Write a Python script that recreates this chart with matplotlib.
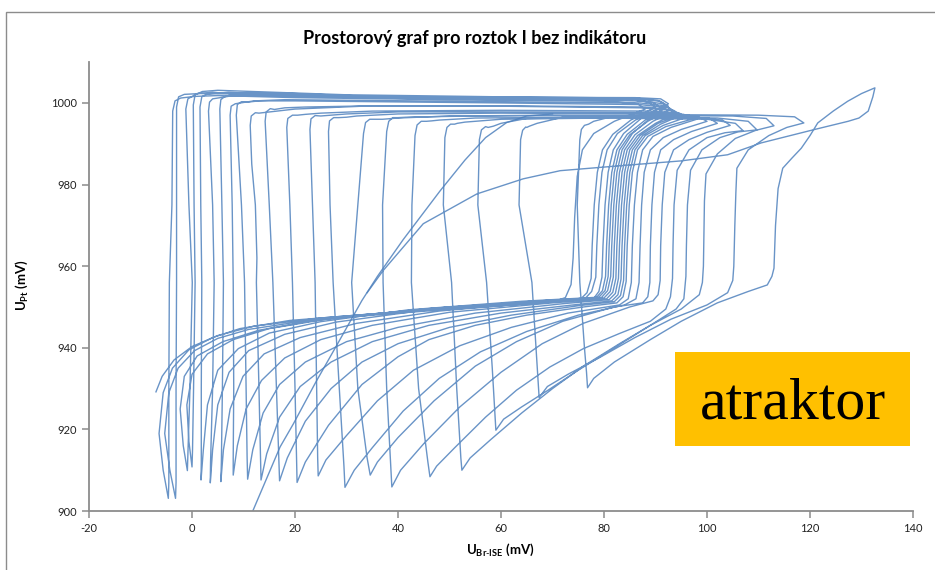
import numpy as np
import matplotlib.pyplot as plt
from matplotlib.patches import Rectangle

# axis ticks
x_ticks = [-20, 0, 20, 40, 60, 80, 100, 120, 140]
y_ticks = [900, 920, 940, 960, 980, 1000]

# trajectory (U_Br-ISE [mV], U_Pt [mV])
# one list per oscillation: fall on the left, arc at the bottom, rise on the right, back along the top
loops = [
    [(-7.0, 929.2), (-5.8, 933), (-3.5, 937), (0, 940.3), (5, 943), (12, 945.3), (25, 947.3), (45, 949.3),
     (62, 950.5), (70, 951.2), (72.5, 952.3), (73.6, 955.5), (74, 962), (74.3, 972), (74.8, 982), (75.8, 988.5),
     (78, 992.5), (82, 995.5), (88, 998.5), (86.5, 999.8), (80, 1000.5), (50, 1000.8), (20, 1001.3), (5, 1001.8),
     (0.5, 1001.6)],
    [(-2.2, 1001.2), (-3.3, 1000.5), (-3.75, 998), (-3.9, 975), (-4.4, 956), (-4.5, 930), (-4.5, 907), (-4.6, 903.1),
     (-5.6, 910), (-6.4, 919), (-5.6, 929), (-3.8, 935), (-0.6, 939.5), (4, 942.5), (9.3, 944.7), (19, 946.7),
     (35, 948.3), (55, 950), (70, 951.3), (75.5, 952), (76.7, 953.5), (77.5, 957), (77.7, 965), (78.1, 975),
     (78.7, 983), (79.7, 988.5), (81.7, 992.3), (85.2, 995.8), (90, 999), (88.5, 1000.3), (84, 1001), (60, 1001.2),
     (30, 1001.6), (8, 1002.2), (1.5, 1002.3)],
    [(-1.5, 1002.1), (-2.6, 1001.5), (-3.0, 999), (-3.0, 975), (-3.0, 956), (-3.1, 930), (-3.1, 907), (-3.2, 903.1),
     (-4.3, 910), (-5.3, 919), (-4.5, 929), (-2.7, 935), (0.5, 939.3), (5, 942.3), (11, 944.5), (22, 946.6),
     (40, 948.5), (60, 950.3), (72, 951.5), (76.5, 952.3), (77.6, 953.8), (78.4, 957.3), (78.6, 965), (79, 975),
     (79.6, 983), (80.6, 988.5), (82.6, 992.5), (86.1, 995.8), (91, 998.8), (89.5, 1000.1), (85, 1000.8),
     (60, 1001), (30, 1001.4), (12, 1002), (4, 1002.6), (1, 1002.3)],
    [(0.3, 1001.8), (-0.8, 1001), (-1.2, 998.5), (-0.6, 975), (0.05, 956), (-0.4, 930), (-0.8, 914), (-0.9, 909.9),
     (-1.7, 916), (-2.3, 925), (-1.5, 933), (1, 938), (6, 941.5), (13, 944.3), (26, 947.2), (46, 949.6),
     (66, 951.3), (78, 952.1), (79, 953.8), (79.6, 957.3), (79.8, 965), (80.2, 975), (80.8, 983), (81.8, 988.5),
     (83.8, 992.5), (87.3, 996.3), (92, 999.5), (90.5, 1000.6), (86, 1001.2), (60, 1001.5), (30, 1002),
     (12, 1002.8), (5, 1003.1), (2, 1002.8)],
    [(1.5, 1002.5), (0.6, 1002), (0.25, 999.5), (0.4, 975), (0.6, 956), (0.3, 930), (0.1, 915), (0.0, 910.8),
     (-0.6, 917), (-1, 926), (0, 933.5), (3, 938.5), (8, 942), (15, 944.7), (28, 947.4), (48, 949.8),
     (68, 951.5), (78.5, 952.3), (79.7, 954), (80.3, 957.5), (80.5, 965), (80.9, 975), (81.5, 983), (82.5, 988.5),
     (84.5, 992.3), (88, 995.8), (92.5, 999.2), (91, 1000.4), (86, 1001), (60, 1001.2), (35, 1001.5),
     (15, 1002.2), (7, 1002.6), (4, 1002.3)],
    [(2.8, 1002.1), (1.9, 1001.5), (1.55, 999), (1.7, 975), (1.9, 956), (1.8, 930), (1.8, 912), (1.75, 907.6),
     (2.2, 915), (3.0, 926), (5, 934.5), (9, 939.8), (15, 943.6), (25, 946.4), (42, 949.3), (64, 951.4),
     (79, 952.4), (80.2, 954), (80.8, 957.5), (81, 965), (81.4, 975), (82, 983), (83, 988.5), (85, 992.2),
     (88.5, 995.5), (93, 998.5), (91.5, 999.8), (87, 1000.5), (60, 1000.8), (35, 1001.2), (15, 1001.8),
     (8, 1001.8), (5, 1001.2)],
    [(4.0, 1001), (3.4, 1000.2), (3.2, 998), (4.0, 975), (4.3, 956), (4.0, 930), (3.6, 912), (3.55, 906.9),
     (4.0, 915), (5.0, 926), (7.2, 934), (11, 939.3), (18, 943.3), (28, 946.3), (45, 949.2), (66, 951.4),
     (79.5, 952.3), (80.7, 954), (81.3, 957.5), (81.5, 965), (81.9, 975), (82.5, 983), (83.5, 988.5),
     (85.5, 992.5), (89, 996.3), (92.5, 999.8), (91, 1001), (86, 1001.3), (60, 1001.4), (35, 1001.6),
     (20, 1002.3), (10, 1002.5), (7.5, 1002)],
    [(6.3, 1001.5), (5.6, 1000.8), (5.4, 998.5), (5.8, 975), (6.1, 956), (5.9, 930), (5.7, 912), (5.6, 907.2),
     (6.1, 915), (7.4, 925), (9.9, 933), (14, 938.5), (21, 942.5), (32, 946), (48, 949), (68, 951.2),
     (80, 952.2), (81.2, 953.8), (81.8, 957.3), (82, 965), (82.4, 975), (83, 983), (84, 988.5), (86, 992.2),
     (89.5, 995.5), (93.5, 998), (92, 999.3), (87, 1000), (60, 1000.3), (35, 1000.6), (18, 1000.8),
     (12, 1000.5), (9.5, 1000)],
    [(8.4, 999.8), (7.6, 999.2), (7.4, 997), (7.8, 975), (8.0, 956), (8.1, 930), (8.0, 913), (8.0, 908.8),
     (8.8, 916), (10.5, 925), (13.5, 932), (18, 937.5), (25, 942), (35, 945.5), (50, 948.7), (70, 951),
     (80.5, 952), (81.7, 953.6), (82.3, 957), (82.5, 965), (82.9, 975), (83.5, 983), (84.5, 988.5), (86.5, 992),
     (90, 995), (94, 997.5), (92.5, 998.8), (87, 999.6), (60, 1000), (35, 1000.3), (20, 1000.5),
     (13, 1000.5), (10.8, 1000.2)],
    [(9.6, 1000.3), (8.8, 999.6), (8.6, 997), (9.6, 975), (10.2, 956), (10.5, 930), (10.7, 913), (10.8, 907.8),
     (11.8, 915), (13.8, 924), (17, 931), (22, 936.5), (30, 941.5), (40, 945), (55, 948.5), (72, 950.8),
     (81, 951.8), (82.2, 953.3), (82.8, 957), (83, 965), (83.4, 975), (84, 983), (85, 988.5), (87, 992),
     (90.5, 995), (94.5, 997), (93, 998.2), (87, 998.8), (60, 999.2), (35, 999.3), (20, 998.5),
     (15, 997.8), (13, 997.5)],
    [(12.3, 997.6), (11.5, 996.8), (11.3, 994.5), (11.6, 985), (12.3, 975), (12.6, 962), (12.5, 956), (13.0, 930),
     (13.3, 913), (13.4, 907.6), (14.5, 914), (17, 923), (21, 930.5), (27, 936.5), (35, 941.5), (46, 945.5),
     (60, 948.5), (74, 950.5), (81.5, 951.5), (82.7, 953), (83.3, 956.8), (83.5, 965), (83.9, 975), (84.5, 983),
     (85.5, 988.5), (87.5, 992), (91, 994.8), (95, 997), (93.5, 998.2), (88, 999), (60, 999.3), (35, 999.3),
     (22, 999), (18, 998.8), (16, 998.4)],
    [(15.2, 998.6), (14.4, 997.8), (14.2, 995.5), (15.0, 975), (15.7, 956), (16.4, 930), (16.9, 912), (17.0, 907.4),
     (18.5, 913), (22, 922), (27, 930), (33, 936.5), (40, 941), (50, 945), (62, 948), (75, 950.3),
     (82, 951.3), (83.2, 952.8), (83.8, 956.5), (84, 965), (84.4, 975), (85, 983), (86, 988.5), (88, 992),
     (91.5, 994.5), (96, 996.5), (94.5, 997.6), (89, 998), (60, 998.2), (35, 998), (25, 997.5),
     (22, 997.2), (20.5, 997)],
    [(19.5, 997), (18.6, 996.2), (18.4, 994), (19.0, 975), (19.5, 956), (20.0, 930), (20.3, 912), (20.4, 907.0),
     (22, 912), (26.5, 921), (33, 931), (40, 937.8), (46, 942), (55, 945.5), (65, 948), (76, 950),
     (82.5, 951), (83.7, 952.5), (84.3, 956.3), (84.5, 965), (84.9, 975), (85.5, 983), (86.5, 988.5),
     (88.5, 991.8), (92, 994.2), (97, 996), (95.5, 997.2), (90, 997.6), (60, 997.8), (40, 997.8),
     (30, 997.3), (27, 997), (25, 996.8)],
    [(23.9, 996.9), (23.1, 996.1), (22.9, 993.5), (23.4, 975), (23.9, 956), (24.2, 930), (24.4, 913), (24.5, 908.6),
     (26, 912.5), (30, 918.5), (36, 927), (43, 934.5), (52, 940.5), (62, 945), (73, 948.5), (83, 950.5),
     (84.7, 952), (85.3, 956), (85.5, 965), (85.9, 975), (86.5, 983), (87.5, 988.5), (89.5, 991.8), (93, 994),
     (98, 996), (96.5, 997), (91, 997.3), (60, 997.5), (40, 997.3), (32, 996.8), (30, 996.5), (28.5, 996.4)],
    [(27.5, 996.4), (26.7, 995.6), (26.5, 993), (26.8, 975), (27.4, 956), (28.6, 930), (29.5, 911), (29.7, 905.8),
     (31.5, 910), (35, 915.5), (41, 924.5), (48, 932.5), (56, 939), (65, 944), (75, 948), (84, 950.5),
     (86.2, 952), (86.8, 956), (87, 965), (87.3, 975), (87.8, 983), (89, 988.5), (91.5, 991.5), (95, 993.5),
     (100, 995.5), (98.5, 996.5), (93, 996.9), (70, 997), (50, 996.8), (40, 996.3), (37, 996), (35.5, 996)],
    [(34.5, 996), (33.7, 995.2), (33.3, 992.5), (32.2, 975), (31.0, 956), (32.2, 930), (34.0, 913), (34.6, 908.8),
     (36, 912), (40, 918), (47, 927), (55, 935.5), (63, 941.5), (72, 946.5), (82, 950), (87.5, 951),
     (88.5, 952.5), (88.9, 956), (89, 965), (89.3, 975), (89.8, 983), (91, 988.5), (93.5, 991), (97, 993),
     (102, 995), (100.5, 996.2), (95, 996.7), (70, 996.9), (55, 996.8), (45, 996.6), (41.5, 996.5), (40, 996.4)],
    [(39, 996.4), (38.2, 995.5), (37.8, 993), (37.0, 975), (37.1, 956), (37.8, 930), (38.6, 911), (38.8, 905.9),
     (40.5, 910), (45, 916.5), (52, 925.5), (60, 934), (68, 941), (76, 946), (85, 950), (89.5, 951.5),
     (90.5, 953), (90.9, 956.5), (91, 965), (91.3, 975), (91.8, 983), (93.5, 988.5), (96.5, 991), (100, 992.8),
     (104.5, 994.5), (103, 995.8), (97, 996.5), (75, 996.5), (55, 996.3), (48, 995.8), (46.5, 995.6),
     (45.5, 995.5)],
    [(44.5, 995.5), (43.7, 994.6), (43.3, 992), (42.7, 975), (42.6, 956), (44.0, 930), (45.8, 912), (46.2, 908.4),
     (47.5, 911), (51, 915.5), (57, 923), (63, 929.6), (69.5, 935.3), (76, 939.8), (83, 943.5), (89, 946.5),
     (92, 949.5), (92.9, 952.5), (93.3, 957), (93.4, 965), (93.6, 975), (94.2, 983.5), (96.5, 988.5),
     (100, 991.5), (103.5, 992.7), (107, 993.2), (105.5, 995), (100, 996), (80, 996.3), (60, 996),
     (53, 995.3), (51.5, 995), (51, 994.8)],
    [(50.2, 994.8), (49.5, 994), (49.1, 991.5), (48.8, 975), (50.4, 956), (51.4, 930), (52.2, 913), (52.4, 910.0),
     (54, 913), (58, 917.5), (64, 924), (70, 930), (76, 935.5), (83, 941), (89, 945.5), (94, 949.5),
     (95.5, 952), (95.9, 957.5), (96, 965), (96.2, 975), (96.8, 983.5), (99, 988.5), (102.5, 991.5),
     (106, 992.9), (109.7, 993.4), (108, 995.5), (102, 996.3), (85, 996.5), (65, 996.2), (60, 995),
     (58.5, 994.3), (57.5, 994)],
    [(57, 994.2), (56.2, 993.4), (55.8, 991), (55.5, 975), (57.2, 956), (58.3, 935), (58.8, 924), (59.0, 919.8),
     (60.5, 922.5), (64, 925.5), (69, 929.5), (75, 934.5), (82, 940), (89, 945.5), (95, 949.5), (98.5, 953),
     (99.1, 956), (99.3, 960), (99.4, 968), (99.5, 976), (99.8, 982.6), (102, 987.5), (105.5, 991.3),
     (109.5, 993.3), (113, 994.4), (111.5, 996.2), (105, 996.8), (85, 996.9), (72, 996.5), (67, 995),
     (65.5, 994.3), (65, 994)],
    [(64.8, 994.1), (64.2, 993.3), (63.8, 991), (63.5, 975), (66.0, 956), (66.8, 940), (67.2, 932), (67.4, 927.8),
     (69, 930.5), (73, 933.5), (79, 937.5), (86, 942.5), (93, 947), (100, 950.5), (104, 953.5),
     (105, 956.5), (105.2, 960), (105.4, 970), (105.6, 978), (105.8, 984), (108, 988.5), (112, 992),
     (115.5, 994), (118.8, 995.1), (117, 996.6), (110, 997), (95, 997.1), (82, 996.8), (78, 995.5), (77, 994.8)],
    [(76.2, 994.5), (75.6, 993.5), (75.3, 991), (74.8, 975), (75.3, 956), (76.2, 940), (76.6, 934), (76.8, 930.2),
     (78, 932.5), (82, 936.5), (89, 942), (95, 946.5), (102, 951), (108, 953.8), (111.7, 955.4),
     (112.6, 957.5), (113, 959.5), (113.3, 970), (113.8, 979), (114.7, 984), (116.5, 986.5), (118.3, 988.9),
     (120, 992), (121.5, 995.1), (124.5, 998), (127.3, 1000.4), (130, 1002.3), (132.6, 1003.7),
     (132.2, 1001.5), (131.3, 998), (129.5, 996.3), (127.4, 995.5), (120.9, 993.5), (110.5, 990.2),
     (104, 987.3), (95, 985.8), (85, 984.8), (71.5, 983.4), (64.3, 981.4), (55.3, 977.7), (44.9, 970.4),
     (37.1, 958.9), (34, 953.5)],
]

# initial drift of the electrodes (bottom, near x = 12) into the top band
drift = [(11.8, 900), (14.5, 908), (17.1, 915.7), (19.7, 921.4), (24, 931.5), (28.5, 941.5), (33, 951.6),
         (36, 957.5), (41, 966.5), (48.2, 978.5), (53, 986), (57, 991.5), (61.1, 995.2), (65, 996.8), (70, 997.3)]


def main():
    plt.rcParams['font.family'] = ['Lato', 'DejaVu Sans']
    plt.rcParams['axes.unicode_minus'] = False
    plt.rcParams['mathtext.fontset'] = 'custom'
    plt.rcParams['mathtext.rm'] = 'Lato'
    plt.rcParams['mathtext.bf'] = 'Lato:bold'
    plt.rcParams['mathtext.it'] = 'Lato:italic'

    fig = plt.figure(figsize=(9.35, 5.7), dpi=100)
    ax = fig.add_axes([0.0952, 0.1035, 0.8813, 0.7875])

    line_color = '#4F81BD'
    path = np.array([p for loop in loops for p in loop])
    ax.plot(path[:, 0], path[:, 1], color=line_color, lw=1.0, alpha=0.85)
    d = np.array(drift)
    ax.plot(d[:, 0], d[:, 1], color=line_color, lw=1.0, alpha=0.85)

    # osy
    ax.set_xlim(-20, 140)
    ax.set_ylim(900, 1010)
    ax.set_xticks(x_ticks)
    ax.set_yticks(y_ticks)
    ax.spines["right"].set_visible(False)
    ax.spines["top"].set_visible(False)
    for s in ("left", "bottom"):
        ax.spines[s].set_color('#8c8c8c')
        ax.spines[s].set_linewidth(1.3)
    ax.tick_params(axis='both', colors='#8c8c8c', width=1.1, length=5,
                   labelsize=8, labelcolor='#222222')

    # texty
    fig.text(0.508, 0.933, 'Prostorový graf pro roztok I bez indikátoru',
             ha='center', va='center', fontsize=13, fontweight='bold')
    fig.text(0.535, 0.035, r'$\mathbf{U_{Br\text{-}ISE}}$ (mV)',
             ha='center', va='center', fontsize=9.5, fontweight='bold')
    fig.text(0.0235, 0.5, r'$\mathbf{U_{Pt}}$ (mV)', rotation=90,
             ha='center', va='center', fontsize=9.5, fontweight='bold')

    # rameček grafu
    fig.add_artist(Rectangle((0.0064, -1.0), 5.0, 1.979, transform=fig.transFigure,
                             fill=False, edgecolor='#8c8c8c', lw=1.0))

    # popisek
    fig.add_artist(Rectangle((0.722, 0.2175), 0.2513, 0.165, transform=fig.transFigure,
                             facecolor='#FFC000', edgecolor='none'))
    fig.text(0.848, 0.291, 'atraktor', ha='center', va='center',
             fontsize=43, family='Liberation Serif', color='black')

    fig.savefig("out.png", dpi=100)


if __name__ == '__main__':
    main()
